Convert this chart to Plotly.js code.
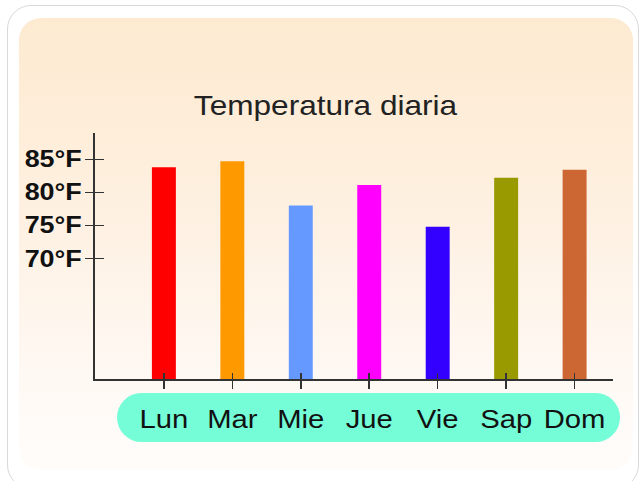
<!DOCTYPE html>
<html>
<head>
<meta charset="utf-8">
<script src="https://cdn.plot.ly/plotly-3.0.1.min.js"></script>
<style>
  html, body { margin: 0; padding: 0; background: #ffffff; width: 641px; height: 481px; overflow: hidden; }
  #outer { position: absolute; left: 7px; top: 5px; width: 630px; height: 482px; border: 1.5px solid #d9d9d9; border-radius: 24px; background: #ffffff; }
  #inner { position: absolute; left: 19px; top: 18px; width: 614px; height: 452px; border-radius: 22px;
           background: linear-gradient(to bottom, #fdead1 0%, #feeedb 30%, #fef4ea 60%, #fffaf6 85%, #fffcfa 100%); }
  #pill { position: absolute; left: 117px; top: 393px; width: 503px; height: 49px; border-radius: 25px; background: #74fdd7; }
  #plot { position: absolute; left: 0; top: 0; width: 548px; height: 481px; transform: scaleX(1.16971); transform-origin: 0 0; }
</style>
</head>
<body>
<div id="outer"></div>
<div id="inner"></div>
<div id="pill"></div>
<div id="plot"></div>
<script>
// ---- data ----
const days = ['Lun', 'Mar', 'Mie', 'Jue', 'Vie', 'Sap', 'Dom'];
const temps = [83.8, 84.7, 78.0, 81.1, 74.8, 82.2, 83.4];
const barColors = ['#ff0000', '#ff9900', '#6699ff', '#ff00ff', '#3300ff', '#999900', '#cc6633'];
const yTickVals = [70, 75, 80, 85];
const yTickText = ['70°F', '75°F', '80°F', '85°F'];
const chartTitle = 'Temperatura diaria';

const xRange = [-1.01, 6.56];
const yRange = [51.77, 88.97];

const traces = [
  {
    type: 'bar', x: days, y: temps, xaxis: 'x', yaxis: 'y',
    width: 0.35,
    marker: { color: barColors, line: { width: 0 } },
    hoverinfo: 'x+y', showlegend: false
  },
  {
    type: 'bar', x: days, y: temps, xaxis: 'x2', yaxis: 'y2',
    width: 0.35,
    marker: { color: 'rgba(0,0,0,0)', line: { width: 0 } },
    hoverinfo: 'skip', showlegend: false
  }
];

const axisFont = { family: 'Liberation Sans, Arial, sans-serif', size: 25, color: '#111111' };

const layout = {
  width: 548, height: 481,
  paper_bgcolor: 'rgba(0,0,0,0)',
  plot_bgcolor: 'rgba(0,0,0,0)',
  margin: { l: 81.2, r: 24.2, t: 132.7, b: 102, pad: 0 },
  showlegend: false,
  title: {
    text: chartTitle,
    font: { family: 'Liberation Sans, Arial, sans-serif', size: 27, color: '#222222' },
    xref: 'container', x: 0.5078, xanchor: 'center',
    yref: 'container', y: 1 - 106 / 481, yanchor: 'middle'
  },
  xaxis: {
    type: 'category', range: xRange, fixedrange: true,
    showline: true, linecolor: '#333333', linewidth: 2,
    ticks: 'outside', ticklen: 8, tickwidth: 1.3, tickcolor: '#333333',
    showgrid: false, zeroline: false,
    tickfont: axisFont, ticklabelstandoff: 9
  },
  yaxis: {
    range: yRange, fixedrange: true,
    showline: true, linecolor: '#333333', linewidth: 1.7,
    ticks: 'outside', ticklen: 6.8, tickwidth: 1.5, tickcolor: '#333333',
    tickvals: yTickVals, ticktext: yTickText,
    showgrid: false, zeroline: false,
    tickfont: { family: 'Liberation Sans, Arial, sans-serif', size: 23, color: '#111111', weight: 'bold' },
    ticklabelstandoff: -2
  },
  xaxis2: {
    type: 'category', range: xRange, fixedrange: true, overlaying: 'x', anchor: 'y2', side: 'bottom',
    showline: false, ticks: 'inside', ticklen: 6, tickwidth: 1.3, tickcolor: '#333333',
    showticklabels: false, showgrid: false, zeroline: false
  },
  yaxis2: {
    range: yRange, fixedrange: true, overlaying: 'y', anchor: 'x2', side: 'left',
    showline: false, ticks: 'inside', ticklen: 7.7, tickwidth: 1.5, tickcolor: '#333333',
    tickvals: yTickVals, showticklabels: false, showgrid: false, zeroline: false
  }
};

Plotly.newPlot('plot', traces, layout, { displayModeBar: false, staticPlot: true });
</script>
</body>
</html>
